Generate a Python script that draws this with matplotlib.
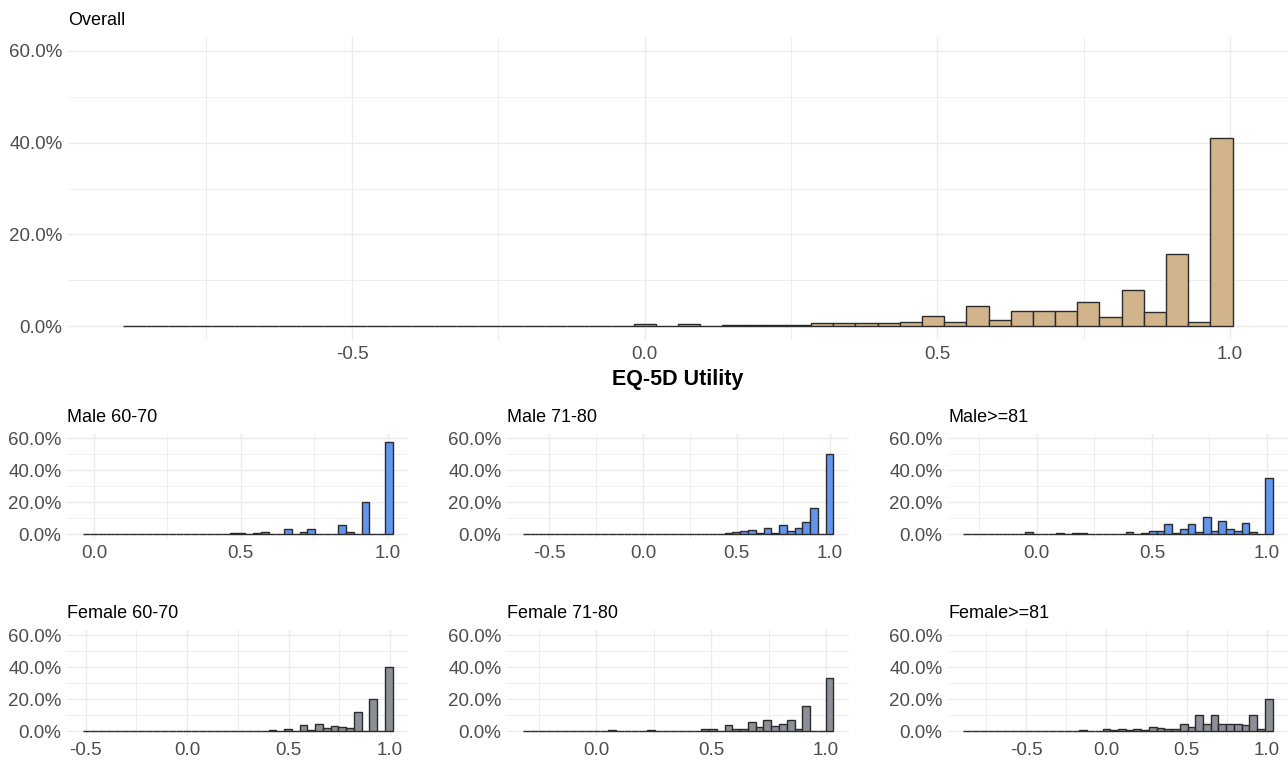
import matplotlib
matplotlib.use("Agg")
import matplotlib.pyplot as plt
import numpy as np
from matplotlib.ticker import MultipleLocator, FuncFormatter

plt.rcParams["font.family"] = ["Liberation Sans", "DejaVu Sans"]

# Histograms of EQ-5D utility, percent of respondents per bin.
# Bins follow ggplot's geom_histogram(bins=n) rule: width = (max - min) / (n - 1).
overall_min = -0.857
overall_bins = 50
overall_pct = [
    0.15, 0, 0.15, 0, 0, 0, 0, 0.15, 0, 0.15, 0, 0.15, 0.15, 0, 0,
    0.1, 0.1, 0.1, 0.1, 0.1, 0.1, 0.1, 0.1,
    0.4, 0.1, 0.4, 0.1, 0.3, 0.3, 0.3, 0.3, 0.65, 0.65, 0.65, 0.65,
    0.95, 2.3, 0.95, 4.5, 1.45, 3.4, 3.4, 3.4, 5.2, 2.0, 7.8, 3.1, 15.7, 0.95, 40.9,
]

male_60_70_min = -0.03
male_60_70_pct = [
    0.1, 0, 0, 0, 0, 0, 0, 0, 0, 0, 0, 0, 0, 0, 0, 0, 0, 0, 0,
    0.5, 0.5, 0, 0.4, 1.5, 0, 0, 2.9, 0, 1.2, 2.9, 0.3, 0.3, 0.3,
    5.4, 1.2, 0.3, 20.0, 0, 0, 57.5,
]

male_71_80_min = -0.62
male_71_80_pct = [
    0.15, 0, 0, 0, 0, 0, 0, 0, 0, 0, 0, 0, 0, 0, 0, 0, 0, 0, 0, 0, 0, 0, 0, 0, 0, 0,
    0.4, 1.25, 1.9, 2.7, 0.4, 3.6, 0.8, 5.4, 2.1, 4.0, 7.3, 16.3, 0.3, 50.0,
]

male_81_min = -0.31
male_81_pct = [
    0.3, 0, 0, 0, 0, 0, 0, 0, 1.3, 0, 0, 0, 0.6, 0, 0.6, 0.6, 0, 0, 0, 0, 0,
    1.5, 0, 0.8, 2.1, 2.1, 6.0, 0.9, 3.4, 6.0, 1.3, 10.7, 2.1, 7.9, 3.4, 2.1,
    6.6, 1.5, 0, 35.1,
]

female_60_70_min = -0.49
female_60_70_pct = [
    0.2, 0, 0, 0, 0, 0, 0, 0, 0, 0, 0, 0, 0, 0, 0, 0, 0, 0, 0, 0, 0, 0, 0, 0,
    0.4, 0, 1.0, 0.3, 3.5, 0.4, 4.4, 1.7, 3.1, 2.5, 1.9, 11.9, 0.3, 19.8, 0, 40.2,
]

female_71_80_min = -0.32
female_71_80_pct = [
    0.2, 0, 0, 0, 0, 0, 0, 0, 0, 0, 0, 0.6, 0, 0, 0, 0, 0.6, 0, 0,
    0.3, 0.3, 0.3, 0.3, 1.5, 1.5, 0, 4.0, 1.5, 1.5, 5.8, 2.3, 6.7, 2.9, 4.6,
    7.1, 1.5, 15.6, 0.3, 0, 32.9,
]

female_81_min = -0.88
female_81_pct = [
    0.2, 0, 0, 0, 0, 0, 0, 0, 0, 0, 0, 0, 0, 0, 0, 0.6, 0, 0,
    1.1, 0.5, 1.1, 0.4, 1.1, 0.5, 2.6, 1.7, 1.1, 1.1, 4.3, 2.6, 9.7, 4.3,
    9.7, 4.3, 4.3, 4.3, 3.5, 9.7, 1.1, 19.7,
]
group_bins = 40

W, H = 1288, 762
GRID = "#EBEBEB"
TEXT = "#4D4D4D"
EDGE = "#2B2B2B"


def gg_breaks(lo, n, hi=1.0):
    w = (hi - lo) / (n - 1)
    b = w / 2
    start = b + np.floor((lo - b) / w) * w
    max_x = hi + (1 - 1e-8) * w
    nb = int(np.floor((max_x - start) / w + 1e-9)) + 1
    return start + w * np.arange(nb), w


def px_axes(fig, left, top, right, bottom):
    return fig.add_axes([left / W, 1 - bottom / H, (right - left) / W, (bottom - top) / H])


def histogram(ax, lo, n, pct, color, title):
    breaks, w = gg_breaks(lo, n)
    centers = breaks[:-1] + w / 2
    ax.bar(centers, pct, width=w, color=color, edgecolor=EDGE, linewidth=1.0, zorder=2)
    rng = breaks[-1] - breaks[0]
    ax.set_xlim(breaks[0] - 0.05 * rng, breaks[-1] + 0.05 * rng)
    ax.set_ylim(-3, 63)
    ax.xaxis.set_major_locator(MultipleLocator(0.5))
    ax.xaxis.set_minor_locator(MultipleLocator(0.25))
    ax.yaxis.set_major_locator(MultipleLocator(20))
    ax.yaxis.set_minor_locator(MultipleLocator(10))
    ax.xaxis.set_major_formatter(FuncFormatter(lambda v, _: f"{v:.1f}"))
    ax.yaxis.set_major_formatter(FuncFormatter(lambda v, _: f"{v:.1f}%"))
    ax.grid(which="major", color=GRID, linewidth=1.0, zorder=0)
    ax.grid(which="minor", color=GRID, linewidth=0.6, zorder=0)
    ax.set_axisbelow(True)
    for s in ax.spines.values():
        s.set_visible(False)
    ax.tick_params(which="both", length=0, labelsize=13.5, colors=TEXT)
    ax.tick_params(axis="x", pad=4.5)
    ax.tick_params(axis="y", pad=4)
    ax.set_title(title, loc="left", fontsize=13, color="black", pad=8.5)


fig = plt.figure(figsize=(W / 100, H / 100), dpi=100)

ax = px_axes(fig, 68, 37, 1288, 340)
histogram(ax, overall_min, overall_bins, overall_pct, "#D2B48C", "Overall")
ax.set_xlabel("EQ-5D Utility", fontsize=15.5, fontweight="bold", color="black", labelpad=4)

cols = [(67, 408), (507, 849), (948, 1288)]
rows = [(433.5, 538.8), (630.2, 735.8)]
panels = [
    (male_60_70_min, male_60_70_pct, "#6495ED", "Male 60-70"),
    (male_71_80_min, male_71_80_pct, "#6495ED", "Male 71-80"),
    (male_81_min, male_81_pct, "#6495ED", "Male>=81"),
    (female_60_70_min, female_60_70_pct, "#8B9096", "Female 60-70"),
    (female_71_80_min, female_71_80_pct, "#8B9096", "Female 71-80"),
    (female_81_min, female_81_pct, "#8B9096", "Female>=81"),
]
for i, (lo, pct, color, title) in enumerate(panels):
    top, bottom = rows[i // 3]
    left, right = cols[i % 3]
    ax = px_axes(fig, left, top, right, bottom)
    histogram(ax, lo, group_bins, pct, color, title)

fig.savefig("out.png", dpi=100)
